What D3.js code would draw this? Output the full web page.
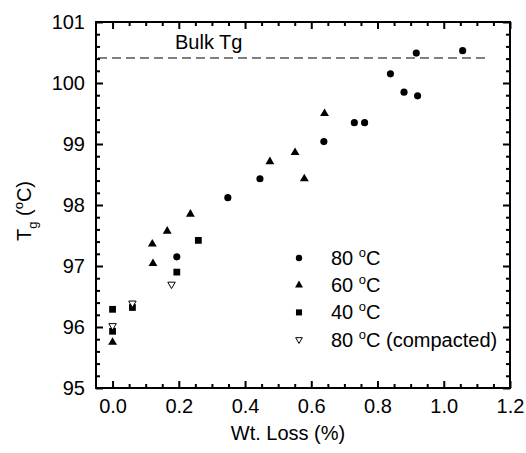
<!DOCTYPE html>
<html>
<head>
<meta charset="utf-8">
<script src="https://cdn.jsdelivr.net/npm/d3@7"></script>
<style>
  body { margin: 0; background: #fff; }
  svg { display: block; font-family: "Liberation Sans", Arial, sans-serif; }
</style>
</head>
<body>
<svg id="chart" width="526" height="453"></svg>
<script>
// weight loss (%) and Tg (degC) for each ageing temperature
const wl80 = [0.194, 0.348, 0.445, 0.638, 0.730, 0.761, 0.839, 0.880, 0.921, 0.917, 1.057]
const tg80 = [97.15, 98.12, 98.43, 99.04, 99.35, 99.35, 100.15, 99.85, 99.79, 100.49, 100.53]

const wl60 = [0, 0.12, 0.122, 0.165, 0.235, 0.475, 0.551, 0.579, 0.64]
const tg60 = [95.75, 97.36, 97.04, 97.57, 97.85, 98.71, 98.86, 98.43, 99.5]

const wl40 = [0, 0, 0.06, 0.194, 0.259]
const tg40 = [96.29, 95.93, 96.32, 96.9, 97.42]

const wlComp = [0, 0.06, 0.178]
const tgComp = [96.02, 96.39, 96.7]

const bulkTg = 100.41
const bulkRange = [-0.044, 1.133]

const xTicks = [0, 0.2, 0.4, 0.6, 0.8, 1.0, 1.2]
const yTicks = [95, 96, 97, 98, 99, 100, 101]

const legendLabels = ['80', '60', '40', '80']

const svg = d3.select('#chart')
const mLeft = 96, mRight = 510, mTop = 22, mBottom = 388
const fs = 20

const x = d3.scaleLinear().domain([-0.05, 1.2]).range([mLeft, mRight])
const y = d3.scaleLinear().domain([95, 101]).range([mBottom, mTop])

const xMinor = d3.range(0, 1.2001, 0.05).filter(v => Math.abs(v * 5 - Math.round(v * 5)) > 1e-6)
const yMinor = d3.range(95, 101.001, 0.2).filter(v => Math.abs(v - Math.round(v)) > 1e-6)

/**
 * Draws one side of the frame: major ticks with optional labels plus minor ticks.
 */
function drawAxis (axisFn, scale, pos, major, minor, labels, fmt) {
  const gMaj = svg.append('g').attr('transform', pos)
    .call(axisFn(scale).tickValues(major).tickSize(-7).tickPadding(labels ? 11 : 0)
      .tickFormat(labels ? fmt : () => ''))
  const gMin = svg.append('g').attr('transform', pos)
    .call(axisFn(scale).tickValues(minor).tickSize(-4).tickFormat(() => ''))
  ;[gMaj, gMin].forEach(g => {
    g.select('.domain').remove()
    g.selectAll('line').attr('stroke', '#000').attr('stroke-width', 2)
    g.selectAll('text').attr('font-size', fs).attr('fill', '#000')
      .attr('font-family', '"Liberation Sans", Arial, sans-serif')
  })
}

drawAxis(d3.axisBottom, x, `translate(0,${mBottom})`, xTicks, xMinor, true, d3.format('.1f'))
drawAxis(d3.axisTop, x, `translate(0,${mTop})`, xTicks, xMinor, false)
drawAxis(d3.axisLeft, y, `translate(${mLeft},0)`, yTicks, yMinor, true, d3.format('d'))
drawAxis(d3.axisRight, y, `translate(${mRight},0)`, yTicks, yMinor, false)

svg.append('rect')
  .attr('x', mLeft).attr('y', mTop)
  .attr('width', mRight - mLeft).attr('height', mBottom - mTop)
  .attr('fill', 'none').attr('stroke', '#000').attr('stroke-width', 2)

// bulk Tg reference line
svg.append('line')
  .attr('x1', x(bulkRange[0])).attr('x2', x(bulkRange[1]))
  .attr('y1', y(bulkTg)).attr('y2', y(bulkTg))
  .attr('stroke', '#000').attr('stroke-width', 1)
  .attr('stroke-dasharray', '9,5')

svg.append('text')
  .attr('x', 175).attr('y', 49)
  .attr('font-size', fs)
  .text('Bulk Tg')

const series = [
  { wl: wl80, tg: tg80, type: d3.symbolCircle, size: 40, fill: '#000', rot: 0 },
  { wl: wl60, tg: tg60, type: d3.symbolTriangle, size: 34, fill: '#000', rot: 0 },
  { wl: wl40, tg: tg40, type: d3.symbolSquare, size: 46, fill: '#000', rot: 0 },
  { wl: wlComp, tg: tgComp, type: d3.symbolTriangle, size: 24, fill: '#fff', rot: 180 }
]

series.forEach(s => {
  svg.append('g').selectAll('path')
    .data(s.wl.map((w, i) => [w, s.tg[i]]))
    .join('path')
    .attr('d', d3.symbol().type(s.type).size(s.size))
    .attr('transform', d => `translate(${x(d[0])},${y(d[1])}) rotate(${s.rot})`)
    .attr('fill', s.fill)
    .attr('stroke', '#000')
    .attr('stroke-width', s.fill === '#fff' ? 1 : 0)
})

// legend
const legend = svg.append('g').attr('transform', 'translate(299,258)')
series.forEach((s, i) => {
  const row = legend.append('g').attr('transform', `translate(0,${i * 27.2})`)
  row.append('path')
    .attr('d', d3.symbol().type(s.type).size(s.size * 0.8))
    .attr('transform', `rotate(${s.rot})`)
    .attr('fill', s.fill)
    .attr('stroke', '#000')
    .attr('stroke-width', s.fill === '#fff' ? 1 : 0)
  const t = row.append('text').attr('x', 32).attr('y', 7).attr('font-size', fs)
  t.append('tspan').text(legendLabels[i] + ' ')
  t.append('tspan').attr('font-size', 13).attr('dy', -8).text('o')
  t.append('tspan').attr('dy', 8).text(i === 3 ? 'C (compacted)' : 'C')
})

// axis titles
svg.append('text')
  .attr('x', 288).attr('y', 440)
  .attr('text-anchor', 'middle').attr('font-size', fs)
  .text('Wt. Loss (%)')

const yt = svg.append('text')
  .attr('transform', 'translate(31,211) rotate(-90)')
  .attr('text-anchor', 'middle').attr('font-size', fs)
yt.append('tspan').text('T')
yt.append('tspan').attr('font-size', 13).attr('dy', 6).text('g')
yt.append('tspan').attr('dy', -6).text(' (')
yt.append('tspan').attr('font-size', 13).attr('dy', -8).text('o')
yt.append('tspan').attr('dy', 8).text('C)')
</script>
</body>
</html>
